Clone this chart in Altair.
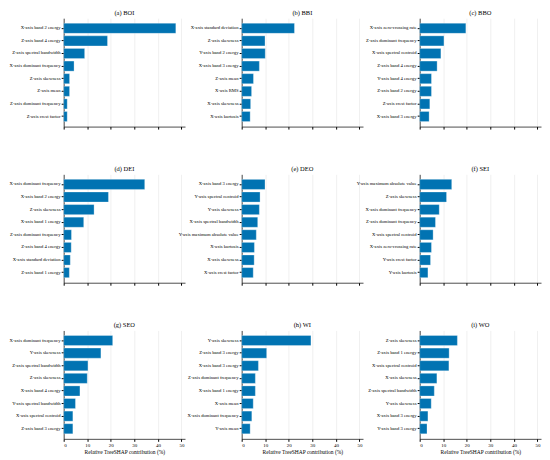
import altair as alt
import pandas as pd

TITLES = ["(a) BOI", "(b) BBI", "(c) BBO", "(d) DEI", "(e) DEO", "(f) SEI",
          "(g) SEO", "(h) WI", "(i) WO"]

FEAT_A = ["X-axis band 2 energy", "Z-axis band 4 energy", "Z-axis spectral bandwidth",
          "X-axis dominant frequency", "Z-axis skewness", "Z-axis mean",
          "Z-axis dominant frequency", "Z-axis crest factor"]
VAL_A = [47.6, 18.6, 8.9, 4.4, 2.5, 2.5, 1.5, 1.5]

FEAT_B = ["X-axis standard deviation", "Z-axis skewness", "Y-axis band 2 energy",
          "X-axis band 3 energy", "Z-axis mean", "X-axis RMS", "X-axis skewness",
          "X-axis kurtosis"]
VAL_B = [22.4, 9.9, 10.0, 7.5, 5.0, 4.2, 3.8, 3.6]

FEAT_C = ["X-axis zero-crossing rate", "Z-axis dominant frequency", "X-axis spectral centroid",
          "Z-axis band 4 energy", "Y-axis band 4 energy", "Z-axis band 2 energy",
          "Z-axis crest factor", "X-axis band 3 energy"]
VAL_C = [19.6, 10.3, 9.0, 7.4, 5.0, 5.0, 4.3, 4.0]

FEAT_D = ["X-axis dominant frequency", "X-axis band 2 energy", "Z-axis skewness",
          "X-axis band 1 energy", "Z-axis dominant frequency", "Z-axis band 4 energy",
          "X-axis standard deviation", "Z-axis band 1 energy"]
VAL_D = [34.4, 19.0, 12.9, 8.5, 3.3, 3.2, 2.8, 2.4]

FEAT_E = ["X-axis band 3 energy", "Y-axis spectral centroid", "Y-axis skewness",
          "X-axis spectral bandwidth", "Y-axis maximum absolute value", "X-axis kurtosis",
          "X-axis skewness", "X-axis crest factor"]
VAL_E = [9.9, 7.8, 7.5, 6.8, 6.2, 5.4, 5.3, 4.9]

FEAT_F = ["Y-axis maximum absolute value", "Z-axis skewness", "X-axis dominant frequency",
          "Z-axis dominant frequency", "X-axis spectral centroid", "X-axis zero-crossing rate",
          "Y-axis crest factor", "Y-axis kurtosis"]
VAL_F = [13.6, 11.4, 8.3, 6.7, 5.7, 5.0, 4.6, 3.5]

FEAT_G = ["X-axis dominant frequency", "Y-axis skewness", "Z-axis spectral bandwidth",
          "Z-axis skewness", "X-axis band 4 energy", "Y-axis spectral bandwidth",
          "X-axis spectral centroid", "Z-axis band 3 energy"]
VAL_G = [20.8, 15.8, 10.3, 10.0, 6.9, 5.0, 3.9, 3.9]

FEAT_H = ["Y-axis skewness", "Z-axis band 3 energy", "X-axis band 3 energy",
          "Z-axis dominant frequency", "X-axis band 1 energy", "X-axis mean",
          "X-axis dominant frequency", "Y-axis mean"]
VAL_H = [29.4, 10.6, 7.1, 5.8, 5.8, 4.9, 4.3, 3.6]

FEAT_I = ["Z-axis skewness", "Z-axis band 1 energy", "X-axis spectral centroid",
          "X-axis skewness", "Z-axis spectral bandwidth", "Y-axis skewness",
          "X-axis band 3 energy", "Y-axis band 3 energy"]
VAL_I = [16.0, 12.5, 12.4, 7.3, 6.2, 4.9, 3.5, 3.1]

X_TICKS = [0, 10, 20, 30, 40, 50]
X_TITLE = "Relative TreeSHAP contribution (%)"

FEATS = [FEAT_A, FEAT_B, FEAT_C, FEAT_D, FEAT_E, FEAT_F, FEAT_G, FEAT_H, FEAT_I]
VALS = [VAL_A, VAL_B, VAL_C, VAL_D, VAL_E, VAL_F, VAL_G, VAL_H, VAL_I]

W, H = 122, 109
FONT = "Liberation Serif"


def panel(title, feats, vals, bottom):
    df = pd.DataFrame({"feature": feats, "value": vals})
    if bottom:
        xaxis = alt.Axis(
            values=X_TICKS, grid=True, gridColor="#e6e6e6", gridWidth=0.6,
            labels=True, title=X_TITLE,
            tickSize=2.5, tickColor="#000000", domainColor="#000000", domainWidth=0.7,
            labelFontSize=5, titleFontSize=5.5, labelPadding=1, titlePadding=2,
            labelFont=FONT, titleFont=FONT, titleFontWeight="normal", labelColor="#000000",
            titleColor="#000000",
        )
    else:
        xaxis = alt.Axis(
            values=X_TICKS, grid=True, gridColor="#e6e6e6", gridWidth=0.6,
            labels=False, title=None,
            tickSize=2.5, tickColor="#000000", domainColor="#000000", domainWidth=0.7,
        )
    return alt.Chart(df).mark_bar(color="#0173b2", stroke="#ffffff", strokeWidth=0.3).encode(
        x=alt.X("value:Q", scale=alt.Scale(domain=[0, 51.5], nice=False, zero=True), axis=xaxis),
        y=alt.Y("feature:N", sort=feats,
                scale=alt.Scale(paddingInner=0.2, paddingOuter=0.4),
                axis=alt.Axis(title=None, labelFontSize=4.7, labelFont=FONT, labelColor="#000000",
                              labelLimit=300, tickSize=2.5, tickColor="#000000",
                              domainColor="#000000", domainWidth=0.7, labelPadding=1.2,
                              grid=False)),
    ).properties(
        width=W, height=H,
        title=alt.TitleParams(title, fontSize=6.5, font=FONT, fontWeight="normal",
                              color="#000000", offset=2, anchor="middle"),
    )


charts = [panel(TITLES[i], FEATS[i], VALS[i], i >= 6) for i in range(9)]

chart = alt.concat(*charts, columns=3, spacing={"row": 48, "column": 57},
                   bounds="flush").properties(
    padding={"left": 0, "top": 0, "right": 0, "bottom": 0}
).configure_view(stroke="transparent")

chart.save("out.html", embed_options={"renderer": "svg", "actions": False})
